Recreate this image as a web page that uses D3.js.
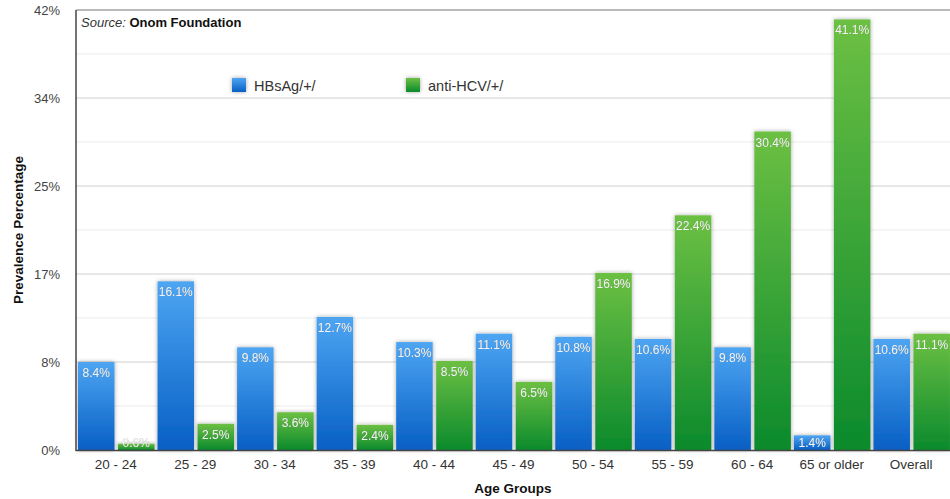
<!DOCTYPE html>
<html><head><meta charset="utf-8">
<script src="https://cdn.jsdelivr.net/npm/d3@7/dist/d3.min.js"></script>
<style>
body{margin:0;background:#fff;}
svg{display:block;font-family:"Liberation Sans",Arial,sans-serif;}
</style></head>
<body><svg id="c" width="950" height="499"></svg>
<script>
const categories = ["20 - 24","25 - 29","30 - 34","35 - 39","40 - 44","45 - 49","50 - 54","55 - 59","60 - 64","65 or older","Overall"];
const hbsag = [8.4,16.1,9.8,12.7,10.3,11.1,10.8,10.6,9.8,1.4,10.6];
const antiHcv = [0.6,2.5,3.6,2.4,8.5,6.5,16.9,22.4,30.4,41.1,11.1];
const seriesNames = ["HBsAg/+/","anti-HCV/+/"];
const tickValues = [0,8.4,16.8,25.2,33.6,42];
const tickLabels = ["0%","8%","17%","25%","34%","42%"];

const svg = d3.select("#c");
const m = {l:76, r:951, t:10, b:450};
const x = d3.scaleBand().domain(categories).range([m.l, m.r]).paddingInner(0).paddingOuter(0);
const y = d3.scaleLinear().domain([0,42]).range([m.b, m.t]);

const defs = svg.append("defs");
const gb = defs.append("linearGradient").attr("id","gBlue").attr("x1",0).attr("y1",0).attr("x2",0).attr("y2",1);
gb.append("stop").attr("offset","0%").attr("stop-color","#4ea5f2");
gb.append("stop").attr("offset","100%").attr("stop-color","#075fc4");
const gg = defs.append("linearGradient").attr("id","gGreen").attr("x1",0).attr("y1",0).attr("x2",0).attr("y2",1);
gg.append("stop").attr("offset","0%").attr("stop-color","#6cc043");
gg.append("stop").attr("offset","100%").attr("stop-color","#0b8a2c");
const sh = defs.append("filter").attr("id","sh").attr("x","-30%").attr("y","-30%").attr("width","160%").attr("height","160%");
sh.append("feDropShadow").attr("dx",0).attr("dy",0).attr("stdDeviation",2.2).attr("flood-color","#000").attr("flood-opacity",0.35);
const tsh = defs.append("filter").attr("id","tsh").attr("x","-20%").attr("y","-40%").attr("width","140%").attr("height","180%");
tsh.append("feDropShadow").attr("dx",0).attr("dy",0).attr("stdDeviation",0.6).attr("flood-color","#333").attr("flood-opacity",0.7);

// minor gridlines
const minor = d3.range(4.2, 42, 8.4);
svg.append("g").selectAll("line").data(minor).join("line")
  .attr("x1",m.l).attr("x2",m.r).attr("y1",d=>y(d)).attr("y2",d=>y(d))
  .attr("stroke","#ececec").attr("stroke-width",1);
svg.append("g").selectAll("line").data(tickValues.slice(1,-1)).join("line")
  .attr("x1",m.l).attr("x2",m.r).attr("y1",d=>y(d)).attr("y2",d=>y(d))
  .attr("stroke","#d0d0d0").attr("stroke-width",1);
// top frame
svg.append("line").attr("x1",m.l).attr("x2",m.r).attr("y1",y(42)).attr("y2",y(42)).attr("stroke","#777").attr("stroke-width",1.2);

// y axis labels
const yAxis = d3.axisLeft(y).tickValues(tickValues).tickFormat((d,i)=>tickLabels[i]).tickSize(0).tickPadding(16);
const ya = svg.append("g").attr("transform",`translate(${m.l},0)`).call(yAxis);
ya.select(".domain").remove();
ya.selectAll("text").attr("font-size",13).attr("fill","#444").attr("font-family","Liberation Sans, Arial, sans-serif");

// bars
const bw = 36.5, gap = 3.5, off = 2;
const data = categories.map((c,i)=>({c, vals:[hbsag[i], antiHcv[i]]}));
const bars = svg.append("g");
data.forEach(d=>{
  d.vals.forEach((v,j)=>{
    const bx = x(d.c) + off + j*(bw+gap);
    bars.append("rect").attr("x",bx).attr("y",y(v)).attr("width",bw).attr("height",y(0)-y(v))
      .attr("fill", j===0 ? "url(#gBlue)" : "url(#gGreen)").attr("filter","url(#sh)");
  });
});
data.forEach(d=>{
  d.vals.forEach((v,j)=>{
    const bx = x(d.c) + off + j*(bw+gap);
    bars.append("text").attr("x",bx+bw/2).attr("y",Math.min(y(v)+15, y(0)-3))
      .attr("text-anchor","middle").attr("font-size",12).attr("fill","#f4f4f4")
      .attr("filter","url(#tsh)").text(v.toFixed(1)+"%");
  });
});

// left axis line and bottom
svg.append("line").attr("x1",m.l).attr("x2",m.l).attr("y1",m.t).attr("y2",m.b+1).attr("stroke","#444").attr("stroke-width",1.5);
svg.append("line").attr("x1",m.l).attr("x2",m.r).attr("y1",m.b+0.5).attr("y2",m.b+0.5).attr("stroke","#444").attr("stroke-width",1.5);

// x axis
const xAxis = d3.axisBottom(x).tickSize(0).tickPadding(9);
const xa = svg.append("g").attr("transform",`translate(0,${m.b})`).call(xAxis);
xa.select(".domain").remove();
xa.selectAll("text").attr("font-size",13.5).attr("fill","#333").attr("font-family","Liberation Sans, Arial, sans-serif");

// axis titles
svg.append("text").attr("x",513).attr("y",493).attr("text-anchor","middle").attr("font-size",13.5).attr("font-weight","bold").attr("fill","#111").text("Age Groups");
svg.append("text").attr("transform","translate(23,230) rotate(-90)").attr("text-anchor","middle").attr("font-size",13.5).attr("font-weight","bold").attr("fill","#111").text("Prevalence Percentage");

// source
const src = svg.append("text").attr("x",81).attr("y",27).attr("font-size",13).attr("fill","#111");
src.append("tspan").attr("font-style","italic").attr("fill","#333").text("Source: ");
src.append("tspan").attr("font-weight","bold").text("Onom Foundation");

// legend
const legX = [232, 406];
seriesNames.forEach((n,i)=>{
  svg.append("rect").attr("x",legX[i]).attr("y",78).attr("width",14).attr("height",14)
    .attr("fill", i===0?"url(#gBlue)":"url(#gGreen)").attr("filter","url(#sh)");
  svg.append("text").attr("x",legX[i]+22).attr("y",91).attr("font-size",14.5).attr("fill","#333").text(n);
});
</script></body></html>
